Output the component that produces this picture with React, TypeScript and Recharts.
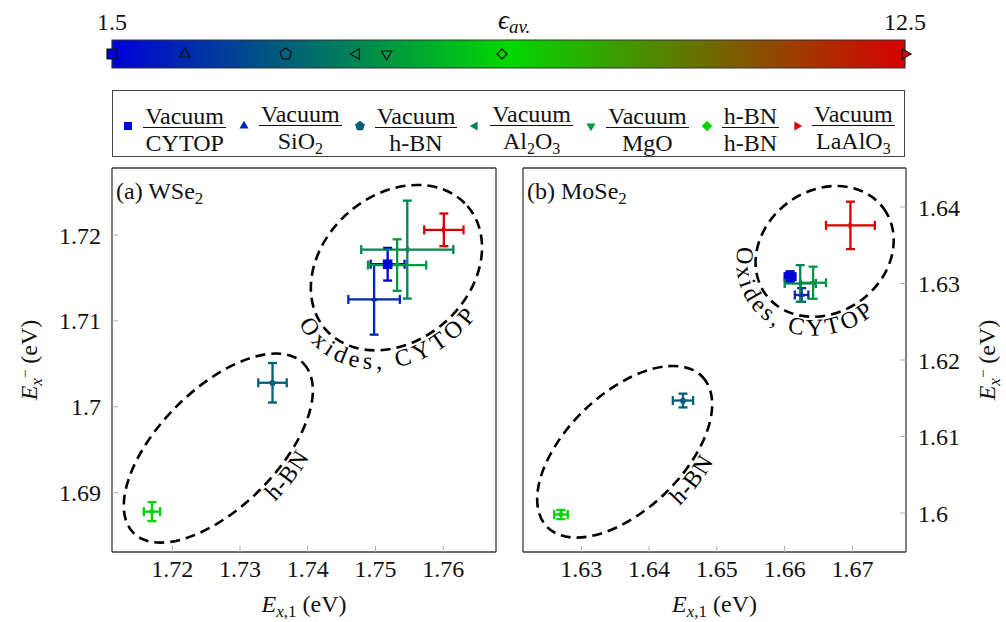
import React from 'react';
import {
  ScatterChart,
  Scatter,
  XAxis,
  YAxis,
  ErrorBar,
  ReferenceDot,
  ReferenceArea,
  Label,
} from 'recharts';

const FONT = '"Liberation Serif", "DejaVu Serif", serif';
const TXT = { fontFamily: FONT };
const FS = 24;
const FS_SUB = 17;

// substrates, legend order
const MARKERS = ['square', 'tri', 'pent', 'triL', 'triD', 'diam', 'triR'];
const TOP_LAYER = ['Vacuum', 'Vacuum', 'Vacuum', 'Vacuum', 'Vacuum', 'h-BN', 'Vacuum'];
const BOTTOM_LAYER = ['CYTOP', 'SiO2', 'h-BN', 'Al2O3', 'MgO', 'h-BN', 'LaAlO3'];
const EPS_AV = [1.5, 2.51, 3.91, 4.89, 5.31, 6.91, 12.5];
const EPS_TICKS = [1.5, 12.5];

// (a) WSe2
const WSE2_X = [1.7518, 1.7498, 1.7348, 1.7547, 1.7532, 1.717, 1.7601];
const WSE2_X_ERR = [0.0025, 0.0038, 0.0021, 0.0068, 0.0043, 0.0012, 0.0029];
const WSE2_Y = [1.7166, 1.7125, 1.7028, 1.7183, 1.7165, 1.6878, 1.7206];
const WSE2_Y_ERR = [0.0019, 0.0041, 0.0023, 0.0057, 0.003, 0.0011, 0.0019];
const WSE2_X_TICKS = [1.72, 1.73, 1.74, 1.75, 1.76];
const WSE2_Y_TICKS = [1.69, 1.7, 1.71, 1.72];

// (b) MoSe2
const MOSE2_X = [1.6608, 1.6625, 1.645, 1.6623, 1.6642, 1.627, 1.6697];
const MOSE2_X_ERR = [0.0008, 0.001, 0.0015, 0.0023, 0.0019, 0.001, 0.0036];
const MOSE2_Y = [1.6309, 1.6285, 1.6147, 1.63, 1.6301, 1.5998, 1.6376];
const MOSE2_Y_ERR = [0.0007, 0.0009, 0.0009, 0.0024, 0.0021, 0.0006, 0.0031];
const MOSE2_X_TICKS = [1.63, 1.64, 1.65, 1.66, 1.67];
const MOSE2_Y_TICKS = [1.6, 1.61, 1.62, 1.63, 1.64];

// dashed groupings (centre in data units, radii/rotation in px)
const WSE2_GROUPS = [
  { x: 1.7531, y: 1.7162, rx: 94, ry: 73, rot: 41, label: 'Oxides, CYTOP', from: 202, to: 66, spacing: 4.5 },
  { x: 1.7268, y: 1.6952, rx: 120, ry: 59, rot: 45, label: 'h-BN', from: 106, to: 46, spacing: 1 },
];
const MOSE2_GROUPS = [
  { x: 1.6659, y: 1.6342, rx: 73, ry: 61, rot: 36, label: 'Oxides, CYTOP', from: 225, to: 84, spacing: 3.5 },
  { x: 1.6364, y: 1.608, rx: 108, ry: 58, rot: 44, label: 'h-BN', from: 105, to: 45, spacing: 1 },
];

// blue -> green -> red colormap over eps 1.5..12.5
function cmap(eps: number) {
  const f = Math.min(1, Math.max(0, (eps - 1.5) / 11));
  const c = 216;
  if (f <= 0.5) {
    const t = f / 0.5;
    return `rgb(0,${Math.round(t * c)},${Math.round((1 - t) * c)})`;
  }
  const t = (f - 0.5) / 0.5;
  return `rgb(${Math.round(t * c)},${Math.round((1 - t) * c)},0)`;
}

function markerPath(kind: string, cx: number, cy: number, r: number) {
  const poly = (pts: number[][]) =>
    'M' + pts.map((p) => `${cx + p[0] * r},${cy + p[1] * r}`).join('L') + 'Z';
  switch (kind) {
    case 'square':
      return poly([[-1, -1], [1, -1], [1, 1], [-1, 1]]);
    case 'tri':
      return poly([[0, -1], [0.87, 0.5], [-0.87, 0.5]]);
    case 'triD':
      return poly([[0, 1], [0.87, -0.5], [-0.87, -0.5]]);
    case 'triL':
      return poly([[-1, 0], [0.5, -0.87], [0.5, 0.87]]);
    case 'triR':
      return poly([[1, 0], [-0.5, -0.87], [-0.5, 0.87]]);
    case 'diam':
      return poly([[0, -1], [1, 0], [0, 1], [-1, 0]]);
    default: {
      const pts = [0, 1, 2, 3, 4].map((k) => {
        const a = ((-90 + 72 * k) * Math.PI) / 180;
        return [Math.cos(a), Math.sin(a)];
      });
      return poly(pts);
    }
  }
}

function chem(s: string, small: number) {
  return s.split(/(\d)/).map((part, i) =>
    /\d/.test(part) ? (
      <span key={i} style={{ fontSize: small, position: 'relative', top: 5 }}>
        {part}
      </span>
    ) : (
      <span key={i}>{part}</span>
    )
  );
}

function groupShape(g: any, id: string) {
  return (props: any) => {
    const { cx, cy } = props;
    const off = 19;
    const A = g.rx + off;
    const B = g.ry + off;
    const rad = Math.PI / 180;
    const x0 = cx + A * Math.cos(g.from * rad);
    const y0 = cy + B * Math.sin(g.from * rad);
    const x1 = cx + A * Math.cos(g.to * rad);
    const y1 = cy + B * Math.sin(g.to * rad);
    const large = g.from - g.to > 180 ? 1 : 0;
    return (
      <g transform={`rotate(${-g.rot} ${cx} ${cy})`}>
        <ellipse
          cx={cx}
          cy={cy}
          rx={g.rx}
          ry={g.ry}
          fill="none"
          stroke="#000"
          strokeWidth={2.6}
          strokeDasharray="10 6"
        />
        <path id={id} d={`M${x0},${y0} A${A},${B} 0 ${large} 0 ${x1},${y1}`} fill="none" />
        <text style={TXT} fontSize={FS} letterSpacing={g.spacing} textAnchor="middle" fill="#000">
          <textPath href={`#${id}`} startOffset="50%">
            {g.label}
          </textPath>
        </text>
      </g>
    );
  };
}

const energyMinus = (
  <>
    <tspan fontStyle="italic">E</tspan>
    <tspan fontStyle="italic" fontSize={FS_SUB} dy={5}>x</tspan>
    <tspan fontSize={15} dy={-12}>−</tspan>
    <tspan dy={7}>{'\u00a0(eV)'}</tspan>
  </>
);

const energyOne = (
  <>
    <tspan fontStyle="italic">E</tspan>
    <tspan fontStyle="italic" fontSize={FS_SUB} dy={5}>x</tspan>
    <tspan fontSize={FS_SUB}>,1</tspan>
    <tspan dy={-5}>{'\u00a0(eV)'}</tspan>
  </>
);

function Panel(props: any) {
  const { xs, xErr, ys, yErr, xDomain, yDomain, xTicks, yTicks, groups, title, side, tag } = props;
  const isLeft = side === 'left';
  const axisLine = { stroke: '#3c3c3c', strokeWidth: 1.3 };
  const tickLine = { stroke: '#acacac', strokeWidth: 1 };
  const tickStyle = { fontFamily: FONT, style: TXT, fontSize: FS, fill: '#111' };

  return (
    <ScatterChart
      width={503}
      height={462}
      style={TXT}
      margin={isLeft ? { top: 8, right: 7, bottom: 0, left: 0 } : { top: 8, right: 0, bottom: 0, left: 20 }}
    >
      <XAxis
        type="number"
        dataKey="x"
        domain={xDomain}
        allowDataOverflow
        ticks={xTicks}
        interval={0}
        height={70}
        tickSize={-6}
        tickMargin={14}
        axisLine={axisLine}
        tickLine={tickLine}
        tick={tickStyle}
      >
        <Label
          content={({ viewBox }: any) => (
            <text
              x={viewBox.x + viewBox.width / 2}
              y={viewBox.y + 60}
              textAnchor="middle"
              style={TXT}
              fontSize={FS}
              fill="#111"
            >
              {energyOne}
            </text>
          )}
        />
      </XAxis>
      <XAxis
        xAxisId="m"
        orientation="top"
        mirror
        type="number"
        domain={xDomain}
        allowDataOverflow
        ticks={xTicks}
        interval={0}
        height={30}
        tickSize={6}
        tick={false}
        axisLine={axisLine}
        tickLine={tickLine}
      >
        <Label
          content={({ viewBox }: any) => (
            <text x={viewBox.x + 4} y={viewBox.y + 31} style={TXT} fontSize={FS} fill="#111">
              {title[0]}
              <tspan fontSize={FS_SUB} dy={5}>2</tspan>
            </text>
          )}
        />
      </XAxis>
      <YAxis
        type="number"
        dataKey="y"
        orientation={isLeft ? 'left' : 'right'}
        width={isLeft ? 112 : 100}
        domain={yDomain}
        allowDataOverflow
        ticks={yTicks}
        interval={0}
        tickSize={-6}
        tickMargin={isLeft ? 17 : 18}
        axisLine={axisLine}
        tickLine={tickLine}
        tick={tickStyle}
      >
        <Label
          content={({ viewBox }: any) => {
            const x = isLeft ? viewBox.x + 37 : viewBox.x + 89;
            const y = viewBox.y + viewBox.height / 2;
            return (
              <text
                x={x}
                y={y}
                transform={`rotate(-90 ${x} ${y})`}
                textAnchor="middle"
                style={TXT}
                fontSize={FS}
                fill="#111"
              >
                {energyMinus}
              </text>
            );
          }}
        />
      </YAxis>
      <YAxis
        yAxisId="m"
        orientation={isLeft ? 'right' : 'left'}
        mirror
        width={40}
        type="number"
        domain={yDomain}
        allowDataOverflow
        ticks={yTicks}
        interval={0}
        tickSize={6}
        tick={false}
        axisLine={axisLine}
        tickLine={tickLine}
      />

      {groups.map((g: any, i: number) => (
        <ReferenceDot key={`g${i}`} x={g.x} y={g.y} shape={groupShape(g, `${tag}-path-${i}`)} />
      ))}

      {MARKERS.map((kind, i) => {
        const color = cmap(EPS_AV[i]);
        const r = kind === 'square' ? 4.8 : 3.6;
        return (
          <Scatter
            key={kind}
            name={BOTTOM_LAYER[i]}
            data={[{ x: xs[i], y: ys[i], ex: xErr[i], ey: yErr[i] }]}
            fill={color}
            isAnimationActive={false}
            shape={(p: any) => <path d={markerPath(kind, p.cx, p.cy, r)} fill={color} />}
          >
            <ErrorBar dataKey="ex" direction="x" width={4.5} strokeWidth={2.3} stroke={color} isAnimationActive={false} />
            <ErrorBar dataKey="ey" direction="y" width={4.5} strokeWidth={2.3} stroke={color} isAnimationActive={false} />
          </Scatter>
        );
      })}
    </ScatterChart>
  );
}

function ColorBar() {
  const data = EPS_AV.map((x, i) => ({ x, y: 0.5, k: i }));
  return (
    <ScatterChart width={1006} height={80} style={TXT} margin={{ top: 0, right: 101, bottom: 12, left: 112 }}>
      <defs>
        <linearGradient id="cbarGrad" x1="0" y1="0" x2="1" y2="0">
          <stop offset="0" stopColor={cmap(1.5)} />
          <stop offset="0.5" stopColor={cmap(7)} />
          <stop offset="1" stopColor={cmap(12.5)} />
        </linearGradient>
      </defs>
      <XAxis
        type="number"
        dataKey="x"
        orientation="top"
        domain={[1.5, 12.5]}
        ticks={EPS_TICKS}
        interval={0}
        height={40}
        axisLine={false}
        tickLine={false}
        tickSize={0}
        tickMargin={10}
        tick={{ fontFamily: FONT, style: TXT, fontSize: FS, fill: '#111' }}
      >
        <Label
          content={() => (
            <text x={498} y={29} style={TXT} fontSize={27} fill="#111">
              <tspan fontStyle="italic">ϵ</tspan>
              <tspan fontStyle="italic" fontSize={19} dy={4}>av.</tspan>
            </text>
          )}
        />
      </XAxis>
      <YAxis type="number" dataKey="y" domain={[0, 1]} hide />
      <ReferenceArea
        x1={1.5}
        x2={12.5}
        y1={0}
        y2={1}
        fill="url(#cbarGrad)"
        fillOpacity={1}
        stroke="#333"
        strokeWidth={1.2}
      />
      <Scatter
        data={data}
        isAnimationActive={false}
        shape={(p: any) => {
          const kind = MARKERS[p.payload.k];
          const r = kind === 'square' ? 5 : kind === 'diam' ? 5 : 6;
          return (
            <path
              d={markerPath(kind, p.cx, p.cy, r)}
              fill={cmap(p.payload.x)}
              stroke="#111"
              strokeWidth={1.2}
            />
          );
        }}
      />
    </ScatterChart>
  );
}

function Legend() {
  return (
    <div
      style={{
        position: 'absolute',
        left: 112,
        top: 90,
        width: 793,
        height: 67,
        boxSizing: 'border-box',
        border: '1.5px solid #444',
        display: 'flex',
        alignItems: 'center',
        justifyContent: 'center',
        gap: 12,
        paddingTop: 11,
        fontFamily: FONT,
        fontSize: FS,
        color: '#111',
      }}
    >
      {MARKERS.map((kind, i) => (
        <div key={kind} style={{ display: 'flex', alignItems: 'center', gap: 9 }}>
          <svg width={12} height={12} style={{ marginTop: -6 }}>
            <path d={markerPath(kind, 6, 6, kind === 'square' ? 4 : 5.2)} fill={cmap(EPS_AV[i])} />
          </svg>
          <div style={{ display: 'inline-flex', flexDirection: 'column', alignItems: 'stretch', lineHeight: '22px' }}>
            <span style={{ padding: '0 2px', textAlign: 'center' }}>{TOP_LAYER[i]}</span>
            <span style={{ borderTop: '1.3px solid #111', paddingTop: 4, textAlign: 'center' }}>
              {chem(BOTTOM_LAYER[i], 16)}
            </span>
          </div>
        </div>
      ))}
    </div>
  );
}

export default function App() {
  return (
    <div
      style={{
        position: 'absolute',
        left: 0,
        top: 0,
        width: 1006,
        height: 622,
        background: '#fff',
        overflow: 'hidden',
        fontFamily: FONT,
      }}
    >
      <style>{`.recharts-wrapper svg text { font-family: ${FONT} !important; }`}</style>
      <div style={{ position: 'absolute', left: 0, top: 0 }}>
        <ColorBar />
      </div>
      <Legend />
      <div style={{ position: 'absolute', left: 0, top: 160 }}>
        <Panel
          side="left"
          tag="wse2"
          title={['(a) WSe']}
          xs={WSE2_X}
          xErr={WSE2_X_ERR}
          ys={WSE2_Y}
          yErr={WSE2_Y_ERR}
          xDomain={[1.7111, 1.7678]}
          yDomain={[1.6831, 1.7278]}
          xTicks={WSE2_X_TICKS}
          yTicks={WSE2_Y_TICKS}
          groups={WSE2_GROUPS}
        />
      </div>
      <div style={{ position: 'absolute', left: 503, top: 160 }}>
        <Panel
          side="right"
          tag="mose2"
          title={['(b) MoSe']}
          xs={MOSE2_X}
          xErr={MOSE2_X_ERR}
          ys={MOSE2_Y}
          yErr={MOSE2_Y_ERR}
          xDomain={[1.6214, 1.6779]}
          yDomain={[1.5949, 1.6451]}
          xTicks={MOSE2_X_TICKS}
          yTicks={MOSE2_Y_TICKS}
          groups={MOSE2_GROUPS}
        />
      </div>
    </div>
  );
}
